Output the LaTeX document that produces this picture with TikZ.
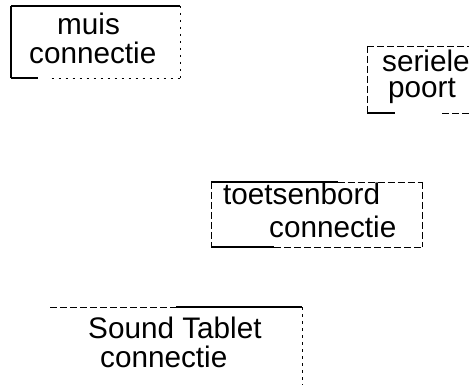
\documentclass[tikz,border=0pt]{standalone}
\usepackage{fontspec}
\setmainfont{Liberation Sans}
\usetikzlibrary{calc}

\begin{document}
\begin{tikzpicture}[
  x=1pt,y=-1pt,
  box/.style={inner sep=0pt,outer sep=0pt},
  lbl/.style={inner sep=0pt,anchor=base west,font=\fontsize{29.7}{32}\selectfont},
  rim/.style={line width=1.1pt,black},
  rimdash/.style={line width=0.9pt,black,dash pattern=on 7pt off 3pt},
  rimdot/.style={line width=0.9pt,black,dash pattern=on 2.5pt off 4.5pt},
]
  \useasboundingbox (0,0) rectangle (469,385);

  % the four boxes
  \node[box,minimum width=169pt,minimum height=72pt] (muis) at (95.5,42) {};
  \node[box,minimum width=102pt,minimum height=67pt] (poort) at (418,79.5) {};
  \node[box,minimum width=211pt,minimum height=65pt] (toets) at (316.5,214.5) {};
  \node[box,minimum width=252pt,minimum height=78pt] (sound) at (176,346) {};

  % texts
  \node[lbl] (muisA) at (57,35) {muis};
  \node[lbl] (muisB) at (29,64) {connectie};
  \node[lbl] (poortA) at (382,71.5) {seriele};
  \node[lbl] (poortB) at (388,97.5) {poort};
  \node[lbl] (toetsA) at (223,205) {toetsenbord};
  \node[lbl] (toetsB) at (269,237) {connectie};
  \node[lbl] (soundA) at (88,338) {Sound Tablet};
  \node[lbl] (soundB) at (100,367) {connectie};

  % muis connectie
  \draw[rim] (muis.north west) -- (muis.north east);
  \draw[rim] (muis.north west) -- (muis.south west);
  \draw[rimdot] (muis.north east) -- (muis.south east);
  \draw[rim] (muis.south west) -- ($(muis.south west)!0.16!(muis.south east)$);
  \draw[rimdot] ($(muis.south west)!0.24!(muis.south east)$) -- (muis.south east);

  % seriele poort
  \draw[rimdash] (poort.north west) -- (poort.north east);
  \draw[rimdash] (poort.north west) -- (poort.south west);
  \draw[rim] (poort.south west) -- ($(poort.south west)!0.27!(poort.south east)$);
  \draw[rimdash] ($(poort.south west)!0.74!(poort.south east)$) -- (poort.south east);

  % toetsenbord connectie
  \draw[rim] (toets.north west) -- ($(toets.north west)!0.6!(toets.north east)$);
  \draw[rimdash] ($(toets.north west)!0.6!(toets.north east)$) -- (toets.north east);
  \draw[rimdash] (toets.north west) -- (toets.south west);
  \draw[rimdash] (toets.north east) -- (toets.south east);
  \draw[rim] (toets.south west) -- ($(toets.south west)!0.3!(toets.south east)$);
  \draw[rimdash] ($(toets.south west)!0.3!(toets.south east)$) -- (toets.south east);

  % Sound Tablet connectie
  \draw[rimdash] (sound.north west) -- ($(sound.north west)!0.5!(sound.north east)$);
  \draw[rim] ($(sound.north west)!0.5!(sound.north east)$) -- (sound.north east);
  \draw[rimdot] (sound.north east) -- (sound.south east);
\end{tikzpicture}
\end{document}
